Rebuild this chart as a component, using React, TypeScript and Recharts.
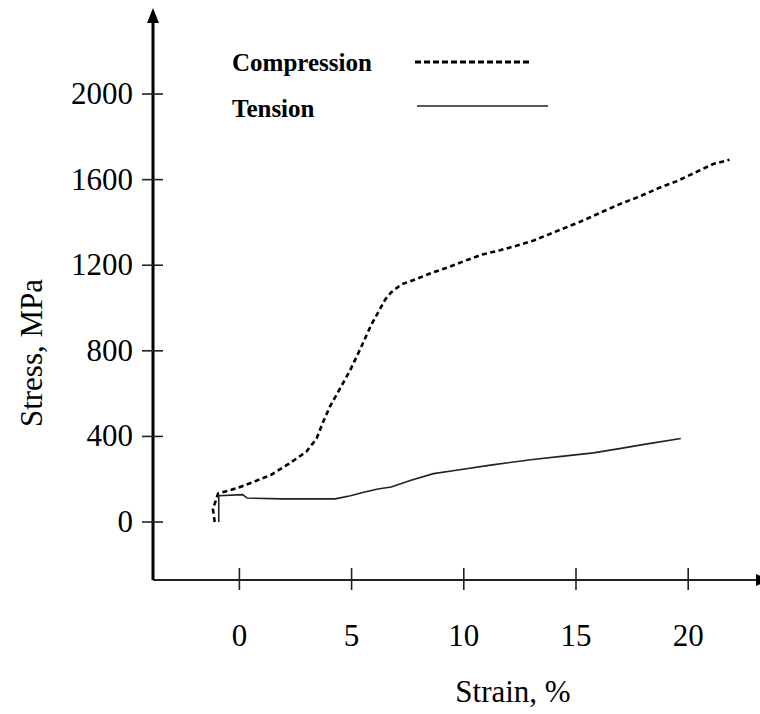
import React from 'react';
import { LineChart, Line, XAxis, YAxis, Legend, ReferenceDot, Label } from 'recharts';

// ---- data ----
const compressionStrain = [
  -1.1, -1.18, -0.95, -0.09, 0.69, 1.42, 2.2, 2.98, 3.44, 3.72, 4.04, 4.36, 4.95, 5.41, 5.86,
  6.22, 6.5, 6.76, 7.21, 7.79, 8.56, 9.32, 10.05, 10.83, 11.61, 12.34, 13.12, 15.16, 17.0,
  17.83, 18.65, 19.47, 20.29, 21.11, 21.84,
];
const compressionStress = [
  0, 60, 133, 159, 190, 221, 272, 328, 390, 465, 541, 600, 712, 814, 918,
  987, 1040, 1073, 1110, 1132, 1164, 1191, 1221, 1250, 1270, 1291, 1316, 1402, 1488,
  1521, 1559, 1592, 1632, 1673, 1693,
];
const tensionStrain = [
  -0.92, -0.92, 0.14, 0.35, 1.88, 4.27, 4.95, 5.54, 6.17, 6.76, 7.65, 8.65, 9.59, 11.27,
  13.07, 14.45, 15.78, 17.0, 18.11, 19.67,
];
const tensionStress = [
  0, 123, 128, 112, 108, 108, 123, 139, 154, 164, 195, 226, 241, 267,
  292, 308, 323, 344, 364, 390,
];
const xTicks = [0, 5, 10, 15, 20];
const yTicks = [0, 400, 800, 1200, 1600, 2000];
const seriesNames = ['Compression', 'Tension'];
const xLabel = 'Strain, %';
const yLabel = 'Stress, MPa';

const compressionData = compressionStrain.map((s, i) => ({ strain: s, stress: compressionStress[i] }));
const tensionData = tensionStrain.map((s, i) => ({ strain: s, stress: tensionStress[i] }));

const X_DOMAIN: [number, number] = [-3.85, 23.2];
const Y_DOMAIN: [number, number] = [-271, 2346];

const FONT = '"Liberation Serif", "Times New Roman", serif';

const seriesStyle: Record<string, { dash?: string; width: number; legendWidth: number; legendDash?: string; color: string }> = {
  Compression: { dash: '5 3.5', width: 2.6, legendWidth: 3, legendDash: '6 3', color: '#000' },
  Tension: { width: 1.6, legendWidth: 1.6, color: '#222' },
};

const XTick = (props: any) => {
  const { x, y, payload } = props;
  return (
    <g>
      <line x1={x} y1={y - 22} x2={x} y2={y} stroke="#222" strokeWidth={1.6} />
      <text x={x} y={y + 56} textAnchor="middle" fontFamily={FONT} fontSize={31} fill="#000">
        {payload.value}
      </text>
    </g>
  );
};

const YTick = (props: any) => {
  const { x, y, payload } = props;
  return (
    <g>
      <line x1={x} y1={y} x2={x + 21} y2={y} stroke="#222" strokeWidth={1.6} />
      <text x={x - 9} y={y + 10} textAnchor="end" fontFamily={FONT} fontSize={31} fill="#000">
        {payload.value}
      </text>
    </g>
  );
};

const renderLegend = (props: any) => {
  const payload = (props.payload || []) as any[];
  return (
    <svg width={760} height={140} style={{ display: 'block' }}>
      {payload.map((entry: any, i: number) => {
        const name = String(entry.value);
        const st = seriesStyle[name] || { width: 1.5, color: '#000' };
        const cy = i === 0 ? 62 : 106;
        const ty = i === 0 ? 71 : 117;
        return (
          <g key={name}>
            <text x={232} y={ty} fontFamily={FONT} fontWeight="bold" fontSize={25} fill="#000">
              {name}
            </text>
            <line
              x1={i === 0 ? 415 : 417}
              x2={i === 0 ? 530 : 548}
              y1={cy}
              y2={cy}
              stroke={st.color}
              strokeWidth={st.legendWidth}
              strokeDasharray={st.legendDash}
            />
          </g>
        );
      })}
    </svg>
  );
};

const UpArrow = (props: any) => {
  const { cx, cy } = props;
  return <polygon points={`${cx},${cy - 12} ${cx - 6},${cy + 3} ${cx + 6},${cy + 3}`} fill="#000" />;
};

const RightArrow = (props: any) => {
  const { cx, cy } = props;
  return <polygon points={`${cx + 10},${cy} ${cx - 4},${cy - 6} ${cx - 4},${cy + 6}`} fill="#000" />;
};

export default function App() {
  return (
    <div style={{ position: 'absolute', left: 0, top: 0, width: 760, height: 714, background: '#fff' }}>
      <LineChart width={760} height={714} margin={{ top: 20, right: 0, bottom: 0, left: 0 }}>
        <XAxis
          type="number"
          dataKey="strain"
          domain={X_DOMAIN}
          allowDataOverflow
          ticks={xTicks}
          interval={0}
          height={134}
          tickSize={10}
          tickMargin={0}
          tickLine={false}
          axisLine={{ stroke: '#222', strokeWidth: 2 }}
          tick={(p: any) => <XTick {...p} />}
        >
          <Label
            content={(p: any) => {
              const vb = p.viewBox;
              return (
                <text
                  x={vb.x + 360}
                  y={vb.y + 122}
                  textAnchor="middle"
                  fontFamily={FONT}
                  fontSize={31}
                  fill="#000"
                >
                  {xLabel}
                </text>
              );
            }}
          />
        </XAxis>
        <YAxis
          type="number"
          dataKey="stress"
          domain={Y_DOMAIN}
          allowDataOverflow
          ticks={yTicks}
          interval={0}
          width={153}
          tickSize={11}
          tickMargin={0}
          tickLine={false}
          axisLine={{ stroke: '#000', strokeWidth: 3 }}
          tick={(p: any) => <YTick {...p} />}
        >
          <Label
            content={(p: any) => {
              const vb = p.viewBox;
              const cx = 42;
              const cy = vb.y + 333;
              return (
                <text
                  x={cx}
                  y={cy}
                  transform={`rotate(-90 ${cx} ${cy})`}
                  textAnchor="middle"
                  fontFamily={FONT}
                  fontSize={31}
                  fill="#000"
                >
                  {yLabel}
                </text>
              );
            }}
          />
        </YAxis>
        <Legend
          layout="vertical"
          align="center"
          verticalAlign="middle"
          content={renderLegend}
          wrapperStyle={{ left: 0, top: 0, width: 760, height: 140 }}
        />
        <Line
          name={seriesNames[0]}
          data={compressionData}
          dataKey="stress"
          type="linear"
          stroke="#000"
          strokeWidth={seriesStyle.Compression.width}
          strokeDasharray={seriesStyle.Compression.dash}
          dot={false}
          activeDot={false}
          isAnimationActive={false}
        />
        <Line
          name={seriesNames[1]}
          data={tensionData}
          dataKey="stress"
          type="linear"
          stroke="#222"
          strokeWidth={seriesStyle.Tension.width}
          dot={false}
          activeDot={false}
          isAnimationActive={false}
        />
        <ReferenceDot x={X_DOMAIN[0]} y={Y_DOMAIN[1]} r={0} shape={(p: any) => <UpArrow {...p} />} ifOverflow="visible" />
        <ReferenceDot x={X_DOMAIN[1]} y={Y_DOMAIN[0]} r={0} shape={(p: any) => <RightArrow {...p} />} ifOverflow="visible" />
      </LineChart>
    </div>
  );
}
